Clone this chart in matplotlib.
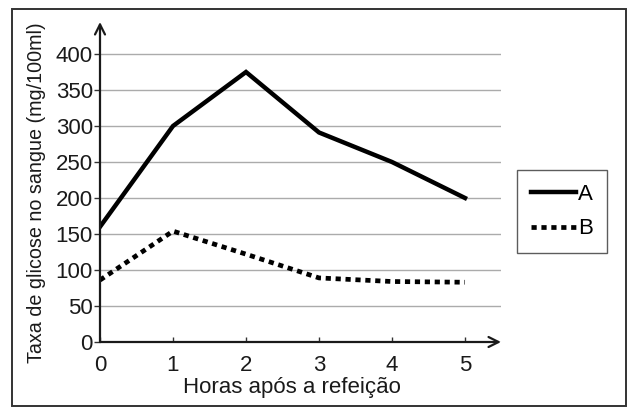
import matplotlib
matplotlib.use("Agg")
import matplotlib.pyplot as plt
from matplotlib.patches import Rectangle

# values
hours = [0, 1, 2, 3, 4, 5]
glucose_a = [160, 300, 375, 291, 250, 200]
glucose_b = [86, 154, 122, 89, 84, 83]
y_ticks = [0, 50, 100, 150, 200, 250, 300, 350, 400]
series_labels = ["A", "B"]

W, H = 635, 416
plt.rcParams["font.family"] = ["Liberation Sans", "DejaVu Sans"]

fig = plt.figure(figsize=(W / 100, H / 100), dpi=100)

# axes box in pixel terms: origin (100, 342), arrow tips at x=501 and y=22
x0, y0, x1, y1 = 100, 342, 501, 22
ax = fig.add_axes([x0 / W, (H - y0) / H, (x1 - x0) / W, (y0 - y1) / H])

px_per_hour = 73.0
px_per_unit = 0.72
ax.set_xlim(0, (x1 - x0) / px_per_hour)
ax.set_ylim(0, (y0 - y1) / px_per_unit)

ax.plot(hours, glucose_a, color="black", linewidth=3.2,
        solid_joinstyle="miter", label=series_labels[0], zorder=3)
ax.plot(hours, glucose_b, color="black", linewidth=3.4,
        linestyle=(0, (1.1, 1.0)), dash_capstyle="butt",
        label=series_labels[1], zorder=3)

ax.set_yticks(y_ticks)
ax.set_xticks(hours)
ax.grid(axis="y", color="#ababab", linewidth=1.0, zorder=0)
ax.grid(axis="x", visible=False)

for s in ax.spines.values():
    s.set_visible(False)

# axis lines with open arrowheads
arrow_kw = dict(arrowstyle="->", color="#1a1a1a", lw=1.6,
                mutation_scale=18, shrinkA=0, shrinkB=0)
ax.annotate("", xy=(1, 0), xytext=(0, 0), xycoords="axes fraction",
            arrowprops=arrow_kw, annotation_clip=False, zorder=4)
ax.annotate("", xy=(0, 1), xytext=(0, 0), xycoords="axes fraction",
            arrowprops=arrow_kw, annotation_clip=False, zorder=4)

ax.tick_params(axis="y", direction="out", length=4.6, width=1,
               color="#333333", pad=0.6, labelsize=16, labelcolor="#1a1a1a")
ax.tick_params(axis="x", direction="in", length=3.5, width=1,
               color="#333333", pad=9.5, labelsize=16, labelcolor="#1a1a1a")

ax.set_xlabel("Horas após a refeição", fontsize=16, color="#1a1a1a")
ax.xaxis.set_label_coords(0.479, -0.109)
ax.set_ylabel("Taxa de glicose no sangue (mg/100ml)", fontsize=14.2,
              color="#1a1a1a")
ax.yaxis.set_label_coords(-0.134, 0.468)

leg = ax.legend(loc="center", bbox_to_anchor=(562 / W, (H - 211.5) / H),
                bbox_transform=fig.transFigure, fontsize=16, frameon=True,
                fancybox=False, shadow=False, handlelength=2.0,
                handletextpad=0.1, labelspacing=0.62, borderpad=0.62,
                borderaxespad=0)
leg.get_frame().set_edgecolor("#333333")
leg.get_frame().set_linewidth(1.0)

# outer border around the whole picture
fig.patches.append(Rectangle((12 / W, (H - 406) / H), (626 - 12) / W,
                             (406 - 9) / H, transform=fig.transFigure,
                             fill=False, edgecolor="#333333", linewidth=1.4))

fig.savefig("out.png", dpi=100)
